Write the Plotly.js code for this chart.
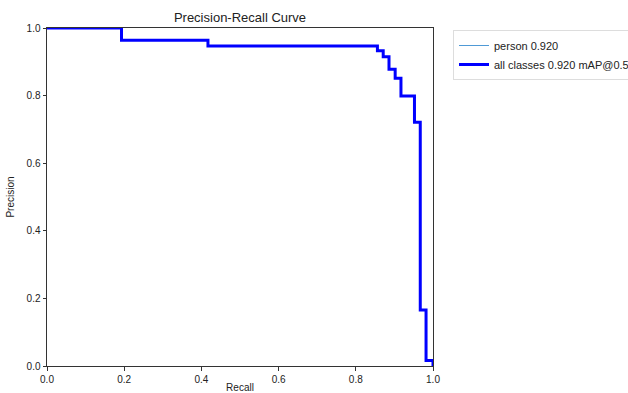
<!DOCTYPE html>
<html>
<head>
<meta charset="utf-8">
<script src="https://cdn.plot.ly/plotly-3.0.1.min.js"></script>
<style>html,body{margin:0;padding:0;background:#fff;}#chart{width:628px;height:393px;}</style>
</head>
<body>
<div id="chart"></div>
<script>
// Step points (drawn with 'hv' shape)
const recall    = [0, 0.193, 0.417, 0.856, 0.871, 0.886, 0.902, 0.917, 0.952, 0.967, 0.982, 1.0];
const precision = [1, 0.964, 0.947, 0.933, 0.915, 0.878, 0.851, 0.799, 0.721, 0.166, 0.016, 0.0];
const seriesNames = ["person 0.920", "all classes 0.920 mAP@0.5"];
const tickVals = [0, 0.2, 0.4, 0.6, 0.8, 1.0];
const tickText = ["0.0", "0.2", "0.4", "0.6", "0.8", "1.0"];

const FONT = "Liberation Sans, Arial, sans-serif";

const traces = [
  {x: recall, y: precision, mode: "lines", line: {shape: "hv", color: "#4f9ad6", width: 1}, name: seriesNames[0]},
  {x: recall, y: precision, mode: "lines", line: {shape: "hv", color: "#0000ff", width: 3}, name: seriesNames[1]}
];

const axisCommon = {
  range: [0, 1], showgrid: false, zeroline: false,
  showline: true, linecolor: "#333", linewidth: 1, mirror: true,
  ticks: "outside", ticklen: 3.5, tickwidth: 1, tickcolor: "#333",
  tickvals: tickVals, ticktext: tickText,
  tickfont: {family: FONT, size: 10, color: "#222"}
};

const layout = {
  width: 628, height: 393,
  margin: {l: 47, r: 195, t: 28, b: 27, pad: 0, autoexpand: false},
  paper_bgcolor: "#fff", plot_bgcolor: "#fff",
  font: {family: FONT, color: "#222"},
  title: {text: "Precision-Recall Curve", font: {family: FONT, size: 13, color: "#222"},
          x: 0.5, xanchor: "center", xref: "paper", y: 1 - 17/393, yanchor: "middle", yref: "container"},
  xaxis: Object.assign({}, axisCommon, {title: {text: "Recall", font: {family: FONT, size: 10, color: "#222"}, standoff: 2}}),
  yaxis: Object.assign({}, axisCommon, {title: {text: "Precision", font: {family: FONT, size: 10, color: "#222"}, standoff: 10}}),
  showlegend: true,
  legend: {xref: "container", yref: "container", x: 453/628, y: 1 - 30/393, xanchor: "left", yanchor: "top",
           bordercolor: "#ddd", borderwidth: 1, bgcolor: "#fff",
           font: {family: FONT, size: 11, color: "#222"}, tracegroupgap: 0}
};

Plotly.newPlot("chart", traces, layout, {staticPlot: true, displayModeBar: false});
</script>
</body>
</html>
